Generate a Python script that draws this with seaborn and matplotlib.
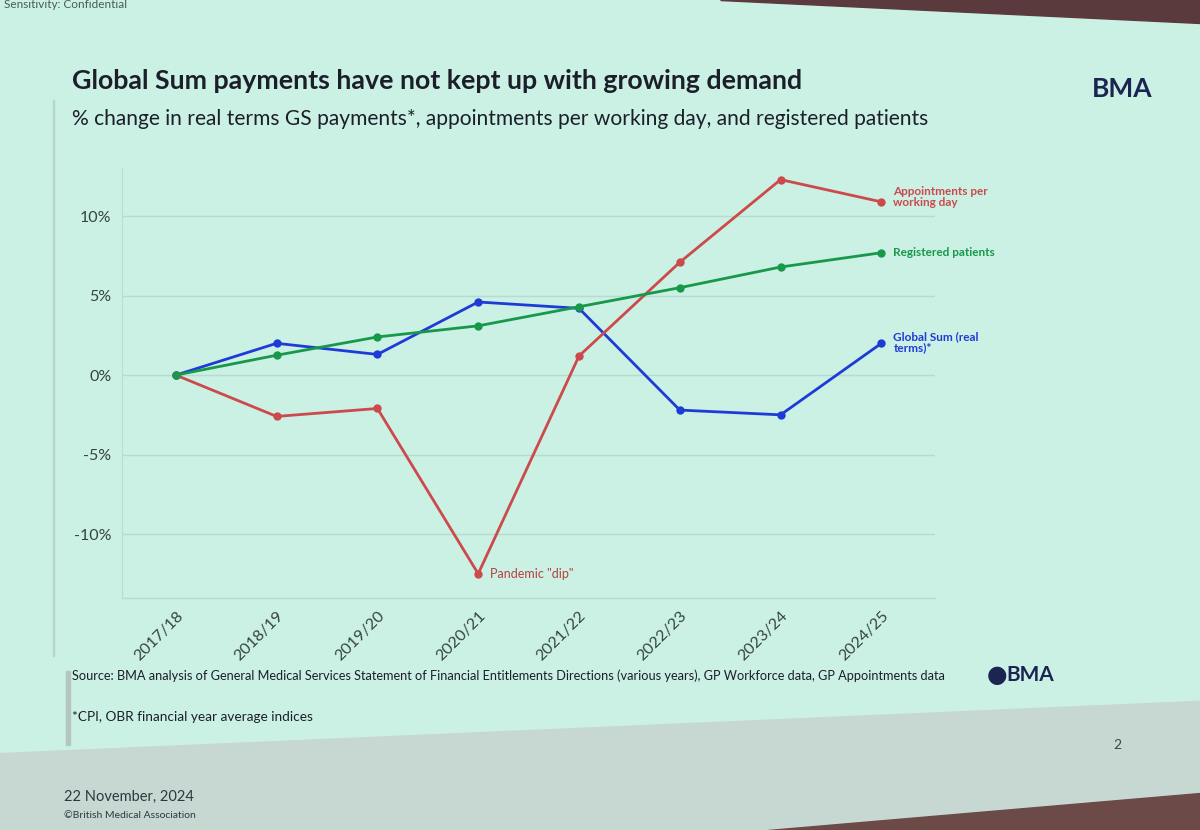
import numpy as np
import pandas as pd
import matplotlib.pyplot as plt
import seaborn as sns
from matplotlib.patches import Polygon, Rectangle

years = ['2017/18', '2018/19', '2019/20', '2020/21', '2021/22', '2022/23', '2023/24', '2024/25']
global_sum = [0.0, 2.0, 1.3, 4.6, 4.2, -2.2, -2.5, 2.0]
appointments = [0.0, -2.6, -2.1, -12.5, 1.2, 7.1, 12.3, 10.9]
registered = [0.0, 1.25, 2.4, 3.1, 4.3, 5.5, 6.8, 7.7]

series_names = ['Global Sum (real terms)*', 'Appointments per working day', 'Registered patients']
series_colors = ['#1f3bd6', '#cc4a4c', '#17984a']
y_ticks = [-10, -5, 0, 5, 10]

df = pd.DataFrame({
    'year': years * 3,
    'x': list(range(len(years))) * 3,
    'value': global_sum + appointments + registered,
    'series': sum([[s] * len(years) for s in series_names], []),
})

sns.set_style('white')
plt.rcParams['font.family'] = ['Lato', 'DejaVu Sans']

bg = '#cbf0e4'
fig = plt.figure(figsize=(12, 8.3), dpi=100)
fig.patch.set_facecolor(bg)

# photo edges: wall at the top right, darker lower band of the slide
fig.patches.append(Polygon([[0.6, 1.0], [1.0, 1.0], [1.0, 0.972]], closed=True,
                           transform=fig.transFigure, color='#5a3a3c', zorder=0))
fig.patches.append(Polygon([[0.0, 0.0], [0.0, 0.092], [1.0, 0.155], [1.0, 0.0]], closed=True,
                           transform=fig.transFigure, color='#c6d8d1', zorder=0))
fig.patches.append(Polygon([[0.64, 0.0], [1.0, 0.0], [1.0, 0.045]], closed=True,
                           transform=fig.transFigure, color='#6b4a48', zorder=0))
fig.patches.append(Rectangle((0.055, 0.102), 0.003, 0.09, transform=fig.transFigure,
                             color='#b3c6bf', zorder=1))
fig.patches.append(Rectangle((0.044, 0.21), 0.0012, 0.67, transform=fig.transFigure,
                             color='#b9d6cc', zorder=1))

ax = fig.add_axes([0.102, 0.28, 0.677, 0.517])
ax.set_facecolor(bg)

sns.lineplot(data=df, x='x', y='value', hue='series', hue_order=series_names,
             palette=dict(zip(series_names, series_colors)), marker='o', markersize=6,
             markeredgewidth=0, linewidth=2.0, legend=False, ax=ax, zorder=3)

ax.set_xlim(-0.53, 7.53)
ax.set_ylim(-14, 13)
ax.set_yticks(y_ticks)
ax.set_yticklabels([f'{t}%' for t in y_ticks], fontsize=11.5, color='#34443f')
ax.set_xticks(range(len(years)))
ax.set_xticklabels(years, rotation=45, ha='right', rotation_mode='anchor',
                   fontsize=11.5, color='#34443f')
ax.tick_params(axis='both', length=0, pad=8)
ax.grid(axis='y', color='#b6dccf', linewidth=1.0)
ax.set_xlabel('')
ax.set_ylabel('')
for side in ['top', 'right']:
    ax.spines[side].set_visible(False)
ax.spines['left'].set_color('#bcdcd1')
ax.spines['bottom'].set_color('#b6dccf')
ax.spines['bottom'].set_linewidth(1.0)

last = len(years) - 1
ax.text(last + 0.12, appointments[last] + 0.3, 'Appointments per\nworking day', color=series_colors[1],
        fontsize=8.5, fontweight='bold', va='center', ha='left', linespacing=1.0)
ax.text(last + 0.12, registered[last], 'Registered patients', color=series_colors[2],
        fontsize=8.5, fontweight='bold', va='center', ha='left')
ax.text(last + 0.12, global_sum[last] + 0.1, 'Global Sum (real\nterms)*', color=series_colors[0],
        fontsize=8.5, fontweight='bold', va='center', ha='left', linespacing=1.0)
ax.text(3.12, appointments[3], 'Pandemic "dip"', color='#b8403f', fontsize=9,
        va='center', ha='left')

fig.text(0.06, 0.903, 'Global Sum payments have not kept up with growing demand',
         fontsize=19.3, fontweight='bold', color='#1c1f2a', va='center')
fig.text(0.06, 0.857, '% change in real terms GS payments*, appointments per working day, and registered patients',
         fontsize=15.1, color='#1c1f2a', va='center')
fig.text(0.96, 0.893, 'BMA', fontsize=19, fontweight='bold', color='#1c2452', va='center', ha='right')
fig.text(0.003, 0.995, 'Sensitivity: Confidential', fontsize=8.5, color='#4a5a58', va='center')

fig.text(0.06, 0.186, 'Source: BMA analysis of General Medical Services Statement of Financial Entitlements '
         'Directions (various years), GP Workforce data, GP Appointments data',
         fontsize=9.2, color='#1c1f2a', va='center')
fig.text(0.06, 0.136, '*CPI, OBR financial year average indices', fontsize=9.8, color='#1c1f2a', va='center')
fig.text(0.822, 0.187, '\u25cf', fontsize=17, color='#1c2452', va='center', family='DejaVu Sans')
fig.text(0.839, 0.187, 'BMA', fontsize=15, fontweight='bold', color='#1c2452', va='center')
fig.text(0.928, 0.103, '2', fontsize=10, color='#3a4a48', va='center')
fig.text(0.053, 0.04, '22 November, 2024', fontsize=10.5, color='#2a3a40', va='center')
fig.text(0.053, 0.017, '\u00a9British Medical Association', fontsize=7.5, color='#2a3a40', va='center')

fig.savefig('out.png', dpi=100, facecolor=fig.get_facecolor())
